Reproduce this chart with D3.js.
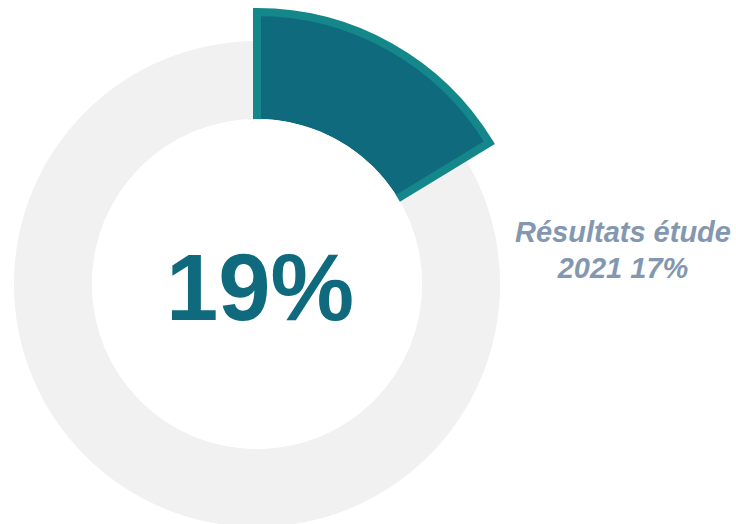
<!DOCTYPE html>
<html>
<head>
<meta charset="utf-8">
<script src="https://cdn.jsdelivr.net/npm/d3@7"></script>
<style>
  html, body { margin: 0; padding: 0; background: #ffffff; }
  svg { display: block; }
</style>
</head>
<body>
<svg id="chart" width="736" height="524"></svg>
<script>
// ---- data ----
const categories = ["Résultat", "Reste"];
const values = [16.3, 83.7];            // share of the ring covered by the highlighted slice
const centerLabel = ["19%"];
const sideLabel = ["Résultats étude", "2021 17%"];

// ---- layout ----
const W = 736, H = 524;
const cx = 257, cy = 284;
const rInner = 165, rOuter = 243, rSlice = 272;

const svg = d3.select("#chart");
const g = svg.append("g").attr("transform", `translate(${cx},${cy})`);

const pie = d3.pie().sort(null).value(d => d)(values);

// background ring
g.append("path")
  .attr("d", d3.arc().innerRadius(rInner).outerRadius(rOuter)({startAngle: 0, endAngle: 2 * Math.PI}))
  .attr("fill", "#f1f1f1");

// highlighted slice fill
const slice = pie[0];
g.append("path")
  .attr("d", d3.arc().innerRadius(rInner).outerRadius(rSlice)(slice))
  .attr("fill", "#0f6a7e");

// slice outline (outer arc + radial edges)
g.append("path")
  .attr("d", d3.arc().innerRadius(0).outerRadius(rSlice)(slice))
  .attr("fill", "none")
  .attr("stroke", "#14878a")
  .attr("stroke-width", 8)
  .attr("stroke-linejoin", "miter");

// hole
g.append("circle").attr("r", rInner).attr("fill", "#ffffff");

// center label
g.append("text")
  .attr("x", 3).attr("y", 36)
  .attr("text-anchor", "middle")
  .attr("font-family", "'Liberation Sans', Arial, sans-serif")
  .attr("font-weight", "bold")
  .attr("font-size", 94)
  .attr("fill", "#0f6a7e")
  .text(centerLabel[0]);

// side label
const side = svg.append("text")
  .attr("text-anchor", "middle")
  .attr("font-family", "'Liberation Sans', Arial, sans-serif")
  .attr("font-weight", "bold")
  .attr("font-style", "italic")
  .attr("font-size", 29)
  .attr("fill", "#8497b0");
sideLabel.forEach((t, i) => {
  side.append("tspan").attr("x", 623).attr("y", 242 + i * 36).text(t);
});
</script>
</body>
</html>
